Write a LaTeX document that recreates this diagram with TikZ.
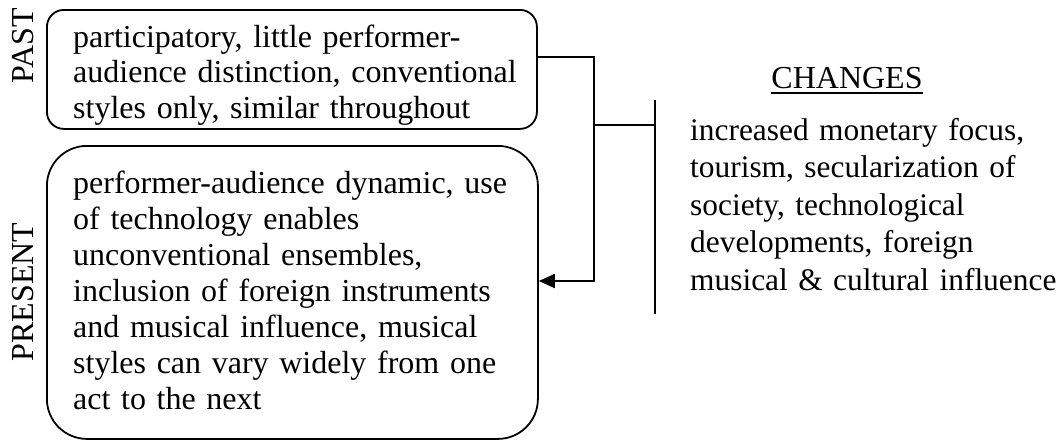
\documentclass[tikz,border=0pt]{standalone}
\usepackage{fontspec}
\setmainfont{Liberation Serif}
\usetikzlibrary{arrows.meta}
\begin{document}
\begin{tikzpicture}[x=1pt,y=-1pt,
  box/.style={draw, line width=1.8pt, rounded corners=#1, anchor=north west, inner sep=0pt},
  txt/.style={anchor=base west, inner sep=0pt, align=left},
  lbl/.style={rotate=90, inner sep=0pt, anchor=base, font=\fontsize{32}{36}\selectfont},
  conn/.style={line width=1.8pt},
  tip/.style={-{Triangle[length=16pt,width=14pt]}}]
\useasboundingbox (0,0) rectangle (1064,439);
% boxes
\node[box=17pt, minimum width=490pt, minimum height=119pt] (past) at (46,9) {};
\node[box=40pt, minimum width=491pt, minimum height=293pt] (present) at (46,145) {};
% box texts
\node[txt, text width=470pt, font=\fontsize{32}{35.5}\selectfont] (pasttext) at (73,47)
  {participatory, little performer-\\audience distinction, conventional\\styles only, similar throughout};
\node[txt, text width=470pt, font=\fontsize{32}{36}\selectfont] (presenttext) at (73,193)
  {performer-audience dynamic, use\\of technology enables\\unconventional ensembles,\\inclusion of foreign instruments\\and musical influence, musical\\styles can vary widely from one\\act to the next};
% side labels
\node[lbl] (pastlbl) at (33,46) {PAST};
\node[lbl] (presentlbl) at (33,292) {PRESENT};
% changes
\node[anchor=base, inner sep=0pt, font=\fontsize{32}{36}\selectfont] (chg) at (847,88) {CHANGES};
\draw[line width=1.3pt] ([yshift=-5pt]chg.base west) -- ([yshift=-5pt]chg.base east);
\node[txt, text width=420pt, font=\fontsize{31.4}{37.5}\selectfont] (chgtext) at (690,140)
  {increased monetary focus,\\tourism, secularization of\\society, technological\\developments, foreign\\musical \& cultural influence};
% connectors
\coordinate (top) at (594,57);
\coordinate (bot) at (594,281);
\coordinate (mid) at (594,125);
\coordinate (vtop) at (655,100);
\coordinate (vbot) at (655,314);
\draw[conn, tip] (past.east |- top) -- (top) -- (bot) -- (present.east |- bot);
\draw[conn] (mid) -- (mid -| vtop);
\draw[conn] (vtop) -- (vbot);
\end{tikzpicture}
\end{document}
